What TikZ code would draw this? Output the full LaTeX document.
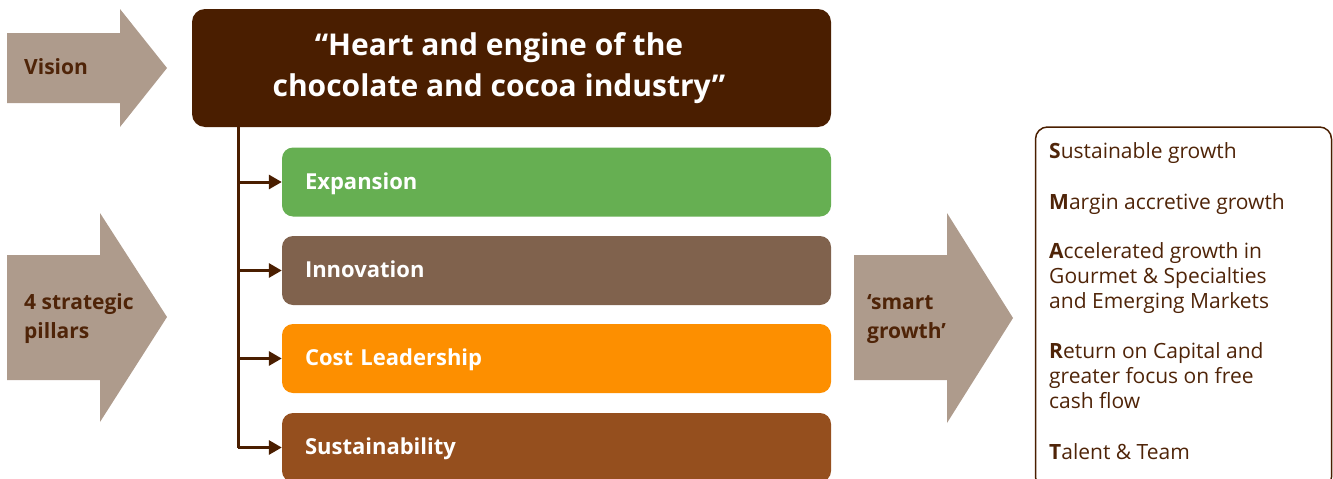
\documentclass[tikz,border=0pt]{standalone}
\usepackage{fontspec}
\setmainfont{Open Sans}
\usetikzlibrary{arrows.meta}
\definecolor{choc}{HTML}{4A1E00}
\definecolor{arrowc}{HTML}{AE9B8C}
\definecolor{expc}{HTML}{66AF52}
\definecolor{innc}{HTML}{80624D}
\definecolor{costc}{HTML}{FD8F00}
\definecolor{susc}{HTML}{954F1E}
\definecolor{txtc}{HTML}{4F2408}
\tikzset{
  pillar/.style={anchor=center, inner xsep=23pt, inner ysep=0pt, text width=503pt, align=left,
    minimum height=69pt, rounded corners=11pt, text=white, text depth=2pt,
    font=\fontsize{22}{26}\selectfont\bfseries},
  arrowtext/.style={anchor=west, align=left, text=txtc, inner sep=0pt,
    font=\fontsize{21}{29}\selectfont\bfseries},
  goal/.style={anchor=base west, align=left, text=txtc, inner sep=0pt,
    font=\fontsize{21}{25}\selectfont},
  conn/.style={draw=choc, line width=3pt, -{Triangle[length=13pt,width=14pt]}},
  trunkline/.style={draw=choc, line width=3pt}
}
\begin{document}
\begin{tikzpicture}[x=1pt,y=-1pt]
\useasboundingbox (0,0) rectangle (1333,479);
\clip (0,0) rectangle (1333,479);
% big arrows
\fill[arrowc] (7,33) -- (120,33) -- (120,9) -- (167,68) -- (120,127) -- (120,103) -- (7,103) -- cycle;
\fill[arrowc] (7,255) -- (100,255) -- (100,213) -- (167,317) -- (100,422) -- (100,380) -- (7,380) -- cycle;
\fill[arrowc] (854,255) -- (947,255) -- (947,213) -- (1013,318) -- (947,423) -- (947,380) -- (854,380) -- cycle;
\node[arrowtext] (vis) at (24,67) {Vision};
\node[arrowtext] (pil) at (24,319) {4 strategic\\pillars};
\node[arrowtext] (smart) at (867,319) {‘smart\\growth’};
% top box
\node[fill=choc, rounded corners=13pt, minimum width=639pt, minimum height=118pt, inner sep=0pt] (top) at (511.5,68) {};
\node[text=white, align=center, inner sep=0pt, font=\fontsize{30}{41}\selectfont\bfseries] (title) at (499,68)
  {“Heart and engine of the\\chocolate and cocoa industry”};
% pillars
\node[pillar, fill=expc] (exp) at (556.5,182) {Expansion};
\node[pillar, fill=innc] (inn) at (556.5,270.5) {Innovation};
\node[pillar, fill=costc] (cost) at (556.5,358.5) {Cost Leadership};
\node[pillar, fill=susc] (sus) at (556.5,447.5) {Sustainability};
% connectors
\coordinate (trunk) at (238,127);
\draw[trunkline] (trunk) -- (sus.west -| trunk);
\draw[conn] (exp.west -| trunk) -- (exp.west);
\draw[conn] (inn.west -| trunk) -- (inn.west);
\draw[conn] (cost.west -| trunk) -- (cost.west);
\draw[conn] (sus.west -| trunk) -- (sus.west);
% goals box
\node[draw=choc, line width=1.5pt, rounded corners=12pt, minimum width=296pt, minimum height=362pt, inner sep=0pt] (goals) at (1183.5,308) {};
\node[goal] (g1) at (1049,158) {\textbf{S}ustainable growth};
\node[goal] (g2) at (1049,209) {\textbf{M}argin accretive growth};
\node[goal] (g3) at (1049,308) {\textbf{A}ccelerated growth in\\Gourmet \& Specialties\\and Emerging Markets};
\node[goal] (g4) at (1049,408) {\textbf{R}eturn on Capital and\\greater focus on free\\cash flow};
\node[goal] (g5) at (1049,459) {\textbf{T}alent \& Team};
\end{tikzpicture}
\end{document}
